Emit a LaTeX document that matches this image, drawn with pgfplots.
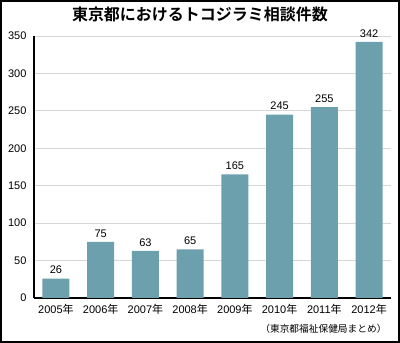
\documentclass[border=0pt]{standalone}
\usepackage{fontspec}
\setmainfont{Liberation Sans}
\newfontfamily\cjk{Noto Sans CJK JP}
\newfontfamily\cjkb{Noto Sans CJK JP Bold}
\usepackage{pgfplots}
\pgfplotsset{compat=1.18}
\definecolor{barc}{RGB}{108,160,173}
\definecolor{gridc}{RGB}{215,215,215}
\begin{document}
\begin{tikzpicture}[x=1pt,y=1pt]
\path[use as bounding box] (0,0) rectangle (400,343);
\draw[line width=1.6pt] (0.8,0.8) rectangle (399.2,342.2);
\begin{axis}[
  at={(34pt,45pt)}, anchor=south west,
  scale only axis, width=357pt, height=262pt,
  xmin=-0.49, xmax=7.49, ymin=0, ymax=350,
  axis x line*=bottom, axis y line*=left,
  axis line style={line width=1.3pt, black, -},
  ytick={0,50,...,350},
  xtick={0,...,7},
  xticklabels={2005{\cjk 年},2006{\cjk 年},2007{\cjk 年},2008{\cjk 年},2009{\cjk 年},2010{\cjk 年},2011{\cjk 年},2012{\cjk 年}},
  major tick length=0pt,
  ymajorgrids, grid style={gridc, line width=0.8pt},
  tick label style={font=\fontsize{11}{13}\selectfont},
  yticklabel style={xshift=-4pt},
  xticklabel style={yshift=-3pt},
  /pgf/number format/assume math mode=true,
  nodes near coords,
  every node near coord/.append style={font=\fontsize{11}{13}\selectfont, yshift=1pt},
  clip=false,
]
\addplot[ybar, bar width=27pt, fill=barc, draw=none] coordinates {
(0,26) (1,75) (2,63) (3,65) (4,165) (5,245) (6,255) (7,342)};
\end{axis}
\node[font=\cjkb\fontsize{16}{18}\selectfont] at (200,329) {東京都におけるトコジラミ相談件数};
\node[font=\cjk\fontsize{9.7}{11}\selectfont, anchor=east] at (390,14) {（東京都福祉保健局まとめ）};
\end{tikzpicture}
\end{document}
